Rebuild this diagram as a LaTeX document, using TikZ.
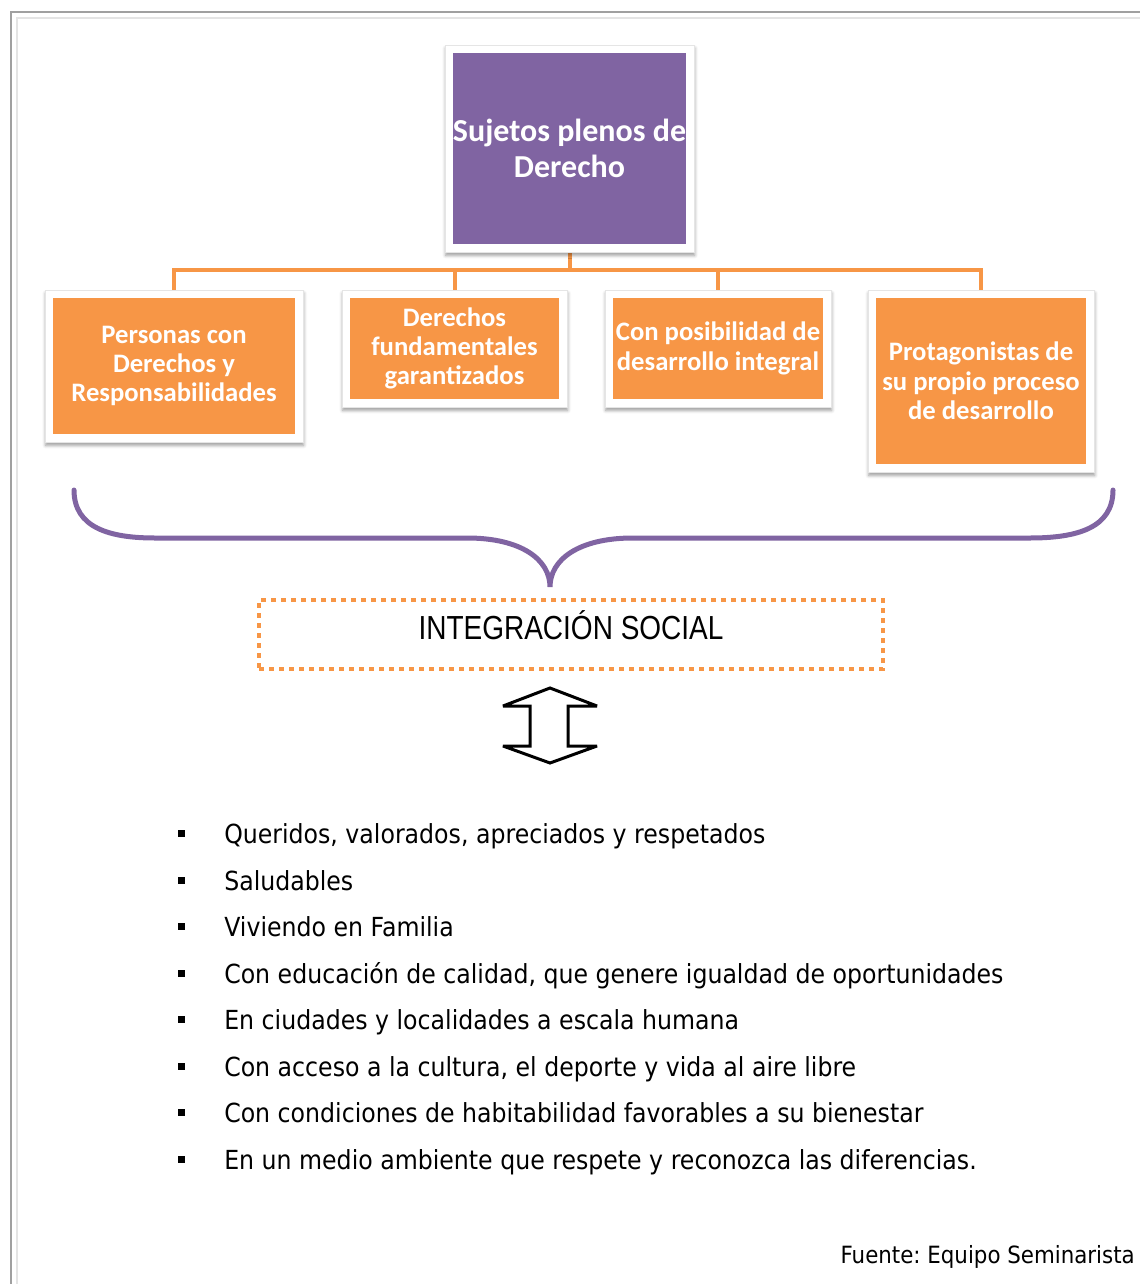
\documentclass[tikz,border=0pt]{standalone}
\usepackage{fontspec}
\setmainfont{DejaVu Sans}[FakeStretch=0.9]
\newfontfamily\boxfont{Carlito}
\newfontfamily\narrowfont{Liberation Sans}[FakeStretch=0.84]
\usepackage{xcolor}
\definecolor{rootpurple}{HTML}{8064A2}
\definecolor{branch}{HTML}{F79646}
\definecolor{frameline}{HTML}{A0A0A0}
\definecolor{framelight}{HTML}{E4E4E4}
\usetikzlibrary{shadows.blur}
\usetikzlibrary{backgrounds}

\begin{document}
\frenchspacing
\begin{tikzpicture}[x=0.75pt, y=-0.75pt,
    card/.style={fill=white, draw=black!10, line width=0.5pt, inner sep=0pt, outer sep=0pt, align=center, text=white,
        blur shadow={shadow xshift=0.5pt, shadow yshift=-2.5pt, shadow blur radius=2.5pt, shadow opacity=40},
        path picture={\fill[#1] ([xshift=6pt,yshift=-6pt]path picture bounding box.north west)
            rectangle ([xshift=-6pt,yshift=6pt]path picture bounding box.south east);}},
    leaf/.style={card=branch, font=\boxfont\bfseries\fontsize{20}{22}\selectfont},
    link/.style={draw=branch, line width=3pt},
    brace/.style={draw=rootpurple, line width=3.75pt, line cap=round},
    dot/.style={fill=black, minimum size=5.25pt, inner sep=0pt},
    item/.style={anchor=base west, inner sep=0pt, font=\fontsize{19.7}{22}\selectfont}]

    \useasboundingbox (0,0) rectangle (1140,1284);

    % page frame
    \draw[frameline, line width=1.5pt] (11,1284) -- (11,12) -- (1140,12);
    \draw[framelight, line width=1.5pt] (17,1284) -- (17,18) -- (1140,18);

    % hierarchy
    \node[card=rootpurple, minimum width=186.75pt, minimum height=155.25pt,
        font=\boxfont\bfseries\fontsize{24}{26.5}\selectfont] (root) at (569.5,148.5) {Sujetos plenos de\\Derecho};
    \node[leaf, minimum width=193.5pt, minimum height=114pt] (c1) at (174,366) {Personas con\\Derechos y\\Responsabilidades};
    \node[leaf, minimum width=168.75pt, minimum height=87.75pt] (c2) at (454.5,348.5) {Derechos\\fundamentales\\garantizados};
    \node[leaf, minimum width=169.5pt, minimum height=87.75pt] (c3) at (718,348.5) {Con posibilidad de\\desarrollo integral};
    \node[leaf, minimum width=169.5pt, minimum height=136.5pt] (c4) at (981,381) {Protagonistas de\\su propio proceso\\de desarrollo};

    \coordinate (bus) at (569.5,270);
    \begin{scope}[on background layer]
        \draw[link] (root.south) -- (bus);
        \foreach \c in {c1,c2,c3,c4}
            \draw[link] (bus) -| (\c.north);
    \end{scope}

    % brace
    \draw[brace] (74,490) .. controls (74,528) and (110,538) .. (155,538) -- (467,538)
        .. controls (522,538) and (550,560) .. (550,587)
        .. controls (550,560) and (578,538) .. (633,538) -- (1030,538)
        .. controls (1077,538) and (1113,528) .. (1113,490);

    \node[draw=branch, line width=3pt, dash pattern=on 3.75pt off 3.75pt, minimum width=468pt,
        minimum height=51.75pt, inner sep=0pt, font=\narrowfont\fontsize{25}{28}\selectfont]
        (integ) at (571,634.5) {\raisebox{-3.4pt}[0pt][0pt]{INTEGRACIÓN SOCIAL}};

    % up-down arrow
    \draw[line width=2.25pt, miter limit=4] (550,688) -- (597,706) -- (568,706) -- (568,746) -- (597,746)
        -- (550,763) -- (503,746) -- (530,746) -- (530,706) -- (503,706) -- cycle;

    % list
    \foreach \txt [count=\i] in {{Queridos, valorados, apreciados y respetados},
        Saludables,
        Viviendo en Familia,
        {Con educación de calidad, que genere igualdad de oportunidades},
        En ciudades y localidades a escala humana,
        {Con acceso a la cultura, el deporte y vida al aire libre},
        Con condiciones de habitabilidad favorables a su bienestar,
        En un medio ambiente que respete y reconozca las diferencias.} {
        \node[dot] (b\i) at (181.5, 833.7+46.5*\i-46.5) {};
        \node[item] (t\i) at (224, 843.7+46.5*\i-46.5) {\txt};
    }

    \node[anchor=base east, inner sep=0pt, font=\fontsize{17.8}{20}\selectfont] (source) at (1135,1263) {Fuente: Equipo Seminarista};

\end{tikzpicture}
\end{document}
